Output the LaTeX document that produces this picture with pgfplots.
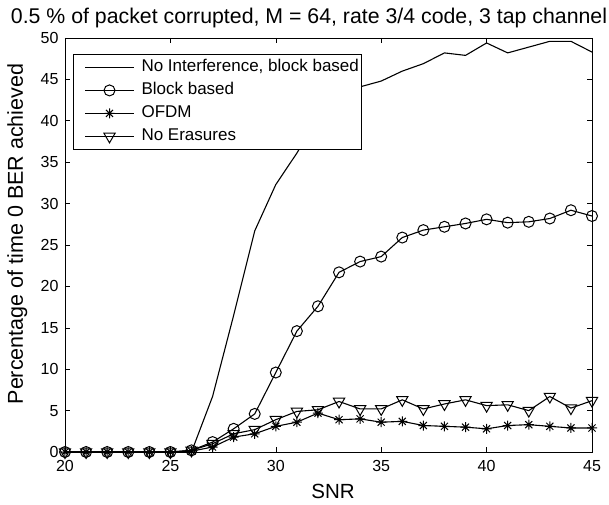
\documentclass[border=0pt]{standalone}
\usepackage{fontspec}
\setmainfont{Liberation Sans}
\usepackage{pgfplots}
\pgfplotsset{compat=1.18}
\usetikzlibrary{calc}
\pgfdeclareplotmark{matstar}{%
  \pgfpathmoveto{\pgfqpoint{-\pgfplotmarksize}{0pt}}\pgfpathlineto{\pgfqpoint{\pgfplotmarksize}{0pt}}%
  \pgfpathmoveto{\pgfqpoint{0pt}{-\pgfplotmarksize}}\pgfpathlineto{\pgfqpoint{0pt}{\pgfplotmarksize}}%
  \pgfpathmoveto{\pgfqpoint{-0.707\pgfplotmarksize}{-0.707\pgfplotmarksize}}\pgfpathlineto{\pgfqpoint{0.707\pgfplotmarksize}{0.707\pgfplotmarksize}}%
  \pgfpathmoveto{\pgfqpoint{-0.707\pgfplotmarksize}{0.707\pgfplotmarksize}}\pgfpathlineto{\pgfqpoint{0.707\pgfplotmarksize}{-0.707\pgfplotmarksize}}%
  \pgfusepathqstroke}
\pgfplotstableread{
x   noint  block  ofdm  noeras
20  0      0      0     0
21  0      0      0     0
22  0      0      0     0
23  0      0      0     0
24  0      0      0     0
25  0      0      0     0
26  0      0.2    0.1   0.2
27  6.7    1.2    0.6   1.0
28  16.5   2.8    1.8   2.2
29  26.7   4.6    2.2   2.7
30  32.3   9.6    3.1   3.9
31  36.1   14.6   3.6   4.9
32  40.4   17.6   4.7   5.1
33  43.3   21.7   3.9   6.1
34  44.1   23.0   4.0   5.2
35  44.8   23.6   3.6   5.2
36  46.0   25.9   3.7   6.3
37  46.9   26.8   3.2   5.2
38  48.2   27.2   3.1   5.8
39  47.9   27.6   3.0   6.3
40  49.4   28.1   2.8   5.6
41  48.2   27.7   3.2   5.7
42  48.9   27.8   3.3   5.0
43  49.6   28.2   3.1   6.7
44  49.6   29.2   2.9   5.3
45  48.3   28.5   2.9   6.2
}\datatable
\begin{document}
\begin{tikzpicture}
\begin{axis}[
  name=ax,
  scale only axis,
  width=527bp, height=414bp,
  xmin=20, xmax=45, ymin=0, ymax=50,
  xtick={20,25,...,45}, ytick={0,5,...,50},
  tick align=inside,
  major tick length=5bp,
  axis line style={line width=0.9bp, black},
  every tick/.style={black, line width=0.6bp},
  tick label style={font=\fontsize{16bp}{19bp}\selectfont},
  xticklabel style={yshift=-5bp},
  yticklabel style={xshift=-3bp},
  /pgf/number format/assume math mode=true,
  every axis plot/.append style={black, line width=1.1bp},
  legend cell align=left,
  legend image code/.code={\path (0bp,0bp); \draw[mark repeat=2,mark phase=2,#1] plot coordinates {(8bp,0bp) (32.5bp,0bp) (57bp,0bp)};},
  legend style={at={(0.0152,0.9614)}, anchor=north west, draw=black, line width=0.9bp,
    font=\fontsize{17bp}{20bp}\selectfont, inner xsep=3bp, inner ysep=3bp, row sep=3bp,
    nodes={text height=12bp, text depth=4bp, inner xsep=0bp},
    /tikz/every odd column/.append style={column sep=7bp}},
]
\addplot[mark=none] table[x=x, y=noint] {\datatable};
\addlegendentry{No Interference, block based}
\addplot[mark=o, mark size=5.5bp, mark options={solid, line width=1bp}] table[x=x, y=block] {\datatable};
\addlegendentry{Block based}
\addplot[mark=matstar, mark size=5bp, mark options={solid, line width=1bp}] table[x=x, y=ofdm] {\datatable};
\addlegendentry{OFDM}
\addplot[mark=triangle, mark size=6.5bp, mark options={solid, rotate=180, line width=1bp}] table[x=x, y=noeras] {\datatable};
\addlegendentry{No Erasures}
\end{axis}
\pgfresetboundingbox
\path[use as bounding box] ($(ax.south west)+(-65bp,-53bp)$) rectangle ++(609bp,505bp);
\node[anchor=base, font=\fontsize{21.3bp}{25bp}\selectfont, inner sep=0pt] at ($(ax.north west)+(244bp,14bp)$) {0.5 \% of packet corrupted, M = 64, rate 3/4 code, 3 tap channel};
\node[anchor=base, font=\fontsize{21.5bp}{25bp}\selectfont, inner sep=0pt, rotate=90] at ($(ax.south west)+(-42bp,218bp)$) {Percentage of time 0 BER achieved};
\node[anchor=base, font=\fontsize{20.5bp}{25bp}\selectfont, inner sep=0pt] at ($(ax.south west)+(268bp,-46bp)$) {SNR};
\end{tikzpicture}
\end{document}
